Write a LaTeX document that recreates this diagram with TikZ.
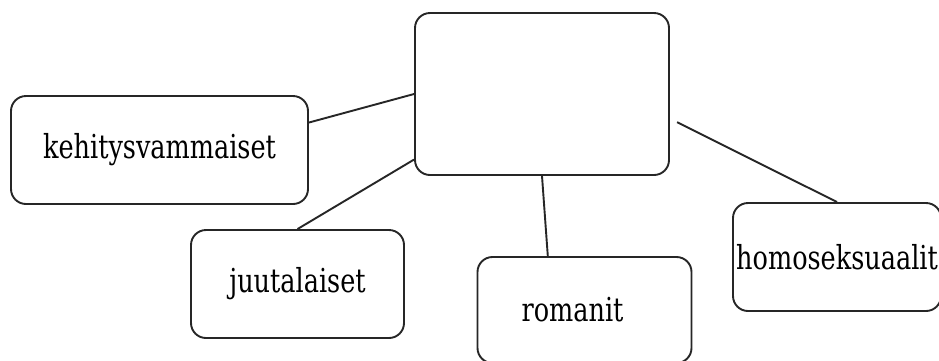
\documentclass[tikz,border=0pt]{standalone}
\usepackage{fontspec}
\setmainfont{DejaVu Serif Condensed}
\usetikzlibrary{calc}
\newcommand{\sqtxt}[1]{\scalebox{0.86}[1]{#1}}
\begin{document}
\begin{tikzpicture}[x=1pt,y=-1pt,
  box/.style={draw=black!85, line width=1.9pt, rounded corners=15pt, fill=white, inner sep=0pt, font=\fontsize{33}{36}\selectfont},
  link/.style={draw=black!85, line width=1.9pt}]
\clip (0,0) rectangle (939,360);
\fill[white] (0,0) rectangle (939,360);
\node[box, minimum width=254pt, minimum height=162pt] (cen) at (542,94) {};
\node[box, minimum width=297pt, minimum height=108pt] (keh) at (159.5,150) {\sqtxt{kehitysvammaiset}};
\node[box, minimum width=213pt, minimum height=108pt] (juu) at (297.5,284) {\sqtxt{juutalaiset}};
\node[box, minimum width=214pt, minimum height=106pt] (rom) at (584.5,310) {\sqtxt{romanit}\rule{24pt}{0pt}};
\node[box, minimum width=208pt, minimum height=108pt] (hom) at (837,257) {\sqtxt{homoseksuaalit}};
\draw[link] ($(keh.north east)!0.25!(keh.south east)$) -- (cen.west);
\draw[link] (juu.north) -- ($(cen.north west)!0.9!(cen.south west)$);
\draw[link] ($(rom.north west)!0.33!(rom.north east)$) -- (cen.south);
\draw[link, shorten >=8pt] (hom.north) -- ($(cen.east)!0.3!(cen.south east)$);
\end{tikzpicture}
\end{document}
